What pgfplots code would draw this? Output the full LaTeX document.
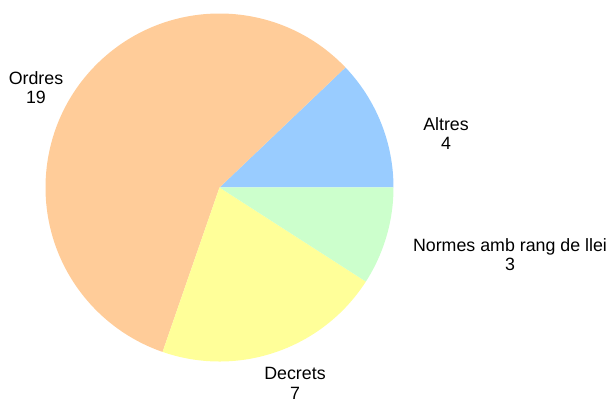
\documentclass[border=0pt]{standalone}
\usepackage{pgfplots}
\pgfplotsset{compat=1.18}
\usepackage{fontspec}
\setmainfont{Liberation Sans}
\definecolor{cAltres}{HTML}{99CCFF}
\definecolor{cOrdres}{HTML}{FFCC99}
\definecolor{cDecrets}{HTML}{FFFF99}
\definecolor{cNormes}{HTML}{CCFFCC}
% values
\def\vAltres{4}
\def\vOrdres{19}
\def\vDecrets{7}
\def\vNormes{3}
\pgfmathsetmacro{\tot}{\vAltres+\vOrdres+\vDecrets+\vNormes}
\pgfmathsetmacro{\aA}{0}
\pgfmathsetmacro{\aB}{\aA+360*\vAltres/\tot}
\pgfmathsetmacro{\aC}{\aB+360*\vOrdres/\tot}
\pgfmathsetmacro{\aD}{\aC+360*\vDecrets/\tot}
\pgfmathsetmacro{\aE}{\aD+360*\vNormes/\tot}
\begin{document}
\begin{tikzpicture}
\begin{axis}[hide axis, scale only axis, width=606pt, height=400pt,
  xmin=0, xmax=606, ymin=0, ymax=400, clip=false, anchor=south west, at={(0,0)}]
\fill[cAltres] (axis cs:219.5,212.5) -- ++(\aA:174pt) arc[start angle=\aA, end angle=\aB, radius=174pt] -- cycle;
\fill[cOrdres] (axis cs:219.5,212.5) -- ++(\aB:174pt) arc[start angle=\aB, end angle=\aC, radius=174pt] -- cycle;
\fill[cDecrets] (axis cs:219.5,212.5) -- ++(\aC:174pt) arc[start angle=\aC, end angle=\aD, radius=174pt] -- cycle;
\fill[cNormes] (axis cs:219.5,212.5) -- ++(\aD:174pt) arc[start angle=\aD, end angle=\aE, radius=174pt] -- cycle;
\begin{scope}[every node/.style={align=center, anchor=north, font=\fontsize{17.8}{19.2}\selectfont, inner sep=0pt}]
\node at (axis cs:36,329) {Ordres\\19};
\node at (axis cs:446,283) {Altres\\4};
\node at (axis cs:510,162) {Normes amb rang de llei\\3};
\node at (axis cs:295,32.5) {Decrets\\7};
\end{scope}
\end{axis}
\pgfresetboundingbox
\path[use as bounding box] (0,0) rectangle (606pt,400pt);
\end{tikzpicture}
\end{document}
